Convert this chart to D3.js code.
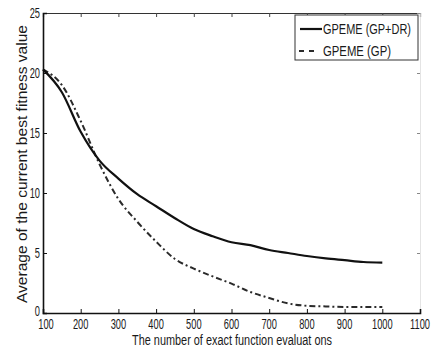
<!DOCTYPE html>
<html>
<head>
<meta charset="utf-8">
<script src="https://cdn.jsdelivr.net/npm/d3@7"></script>
<style>
    body { margin: 0; background: #fff; }
    text { font-family: "Liberation Sans", Arial, sans-serif; fill: #1a1a1a; }
</style>
</head>
<body>
<script>
const evals = [100, 150, 200, 250, 300, 350, 400, 450, 500, 550, 600, 650, 700, 750, 800, 850, 900, 950, 1000];
const gpdr = [20.3, 18.4, 15.1, 12.7, 11.2, 9.9, 8.9, 7.9, 7.0, 6.4, 5.9, 5.65, 5.25, 5.0, 4.75, 4.55, 4.4, 4.25, 4.2];
const gp = [20.3, 19.0, 16.0, 12.4, 9.5, 7.6, 5.95, 4.5, 3.7, 3.05, 2.45, 1.75, 1.25, 0.8, 0.6, 0.55, 0.5, 0.5, 0.5];
const xTicks = [100, 200, 300, 400, 500, 600, 700, 800, 900, 1000, 1100];
const yTicks = [0, 5, 10, 15, 20, 25];
const seriesNames = ["GPEME (GP+DR)", "GPEME (GP)"];

(function() {
    let svgContainer = d3.select('body')
        .append('svg')
        .attr('width', 437)
        .attr('height', 353);

    let x_scale = d3.scaleLinear().domain([100, 1100]).range([43, 420]);
    let y_scale = d3.scaleLinear().domain([0, 25]).range([313, 13]);

    // box: top and right sides with inward ticks only
    svgContainer.append('g')
        .attr('transform', 'translate(0,13)')
        .call(d3.axisBottom(x_scale).tickValues(xTicks).tickSize(4).tickFormat(''))
        .call(g => g.select('.domain').attr('stroke', '#333').attr('stroke-width', 1.2))
        .call(g => g.selectAll('.tick line').attr('stroke', '#444'));
    svgContainer.append('g')
        .attr('transform', 'translate(420,0)')
        .call(d3.axisLeft(y_scale).tickValues(yTicks).tickSize(3).tickFormat(''))
        .call(g => g.select('.domain').attr('stroke', '#ddd').attr('stroke-width', 0.8))
        .call(g => g.selectAll('.tick line').attr('stroke', '#888'));

    let x_axis = svgContainer.append('g')
        .attr('transform', 'translate(0,313)')
        .call(d3.axisTop(x_scale).tickValues(xTicks).tickSize(4).tickFormat(''));
    x_axis.select('.domain').attr('stroke', '#111').attr('stroke-width', 1.6);
    x_axis.selectAll('.tick line').attr('stroke', '#111');

    svgContainer.append('g')
        .selectAll('text')
        .data(xTicks)
        .enter()
        .append('text')
        .attr('transform', d => 'translate(' + (x_scale(d) + (d === 100 ? 3 : 0)) + ',329) scale(0.62,1)')
        .attr('text-anchor', 'middle')
        .style('font-size', '15px')
        .text(d => d);

    let y_axis = svgContainer.append('g')
        .attr('transform', 'translate(43,0)')
        .call(d3.axisRight(y_scale).tickValues(yTicks).tickSize(4).tickFormat(''));
    y_axis.select('.domain').attr('stroke', '#111').attr('stroke-width', 1.6);
    y_axis.selectAll('.tick line').attr('stroke', '#111');

    svgContainer.append('g')
        .selectAll('text')
        .data(yTicks)
        .enter()
        .append('text')
        .attr('transform', d => 'translate(40,' + (y_scale(d) + (d === 0 ? 3 : 5)) + ') scale(0.62,1)')
        .attr('text-anchor', 'end')
        .style('font-size', '15px')
        .text(d => d);

    let line = d3.line()
        .x((d, i) => x_scale(evals[i]))
        .y(d => y_scale(d))
        .curve(d3.curveMonotoneX);

    svgContainer.append('path')
        .datum(gp)
        .attr('d', line)
        .attr('fill', 'none')
        .attr('stroke', '#2a2a2a')
        .attr('stroke-width', 2)
        .attr('stroke-dasharray', '6,3,2,3');

    svgContainer.append('path')
        .datum(gpdr)
        .attr('d', line)
        .attr('fill', 'none')
        .attr('stroke', '#111')
        .attr('stroke-width', 2.2);

    // legend
    let legend = svgContainer.append('g');
    legend.append('rect')
        .attr('x', 295)
        .attr('y', 15)
        .attr('width', 123)
        .attr('height', 45)
        .attr('fill', '#fff')
        .attr('stroke', '#333')
        .attr('stroke-width', 1);
    legend.append('line')
        .attr('x1', 300).attr('x2', 322)
        .attr('y1', 29).attr('y2', 29)
        .attr('stroke', '#111')
        .attr('stroke-width', 2.2);
    legend.append('line')
        .attr('x1', 299).attr('x2', 319)
        .attr('y1', 51).attr('y2', 51)
        .attr('stroke', '#2a2a2a')
        .attr('stroke-width', 2)
        .attr('stroke-dasharray', '5,5');
    legend.selectAll('text.lab')
        .data(seriesNames)
        .enter()
        .append('text')
        .attr('class', 'lab')
        .attr('x', 323)
        .attr('y', (d, i) => 34 + i * 22)
        .attr('textLength', (d, i) => i === 0 ? 88 : 68)
        .attr('lengthAdjust', 'spacingAndGlyphs')
        .style('font-size', '14px')
        .text(d => d);

    svgContainer.append('text')
        .attr('x', 232)
        .attr('y', 345)
        .attr('text-anchor', 'middle')
        .attr('textLength', 200)
        .attr('lengthAdjust', 'spacingAndGlyphs')
        .style('font-size', '14px')
        .text('The number of exact function evaluat ons');
    svgContainer.append('text')
        .attr('transform', 'translate(27,164)rotate(-90)')
        .attr('text-anchor', 'middle')
        .attr('textLength', 278)
        .attr('lengthAdjust', 'spacingAndGlyphs')
        .style('font-size', '14px')
        .text('Average of the current best fitness value');
})();
</script>
</body>
</html>
